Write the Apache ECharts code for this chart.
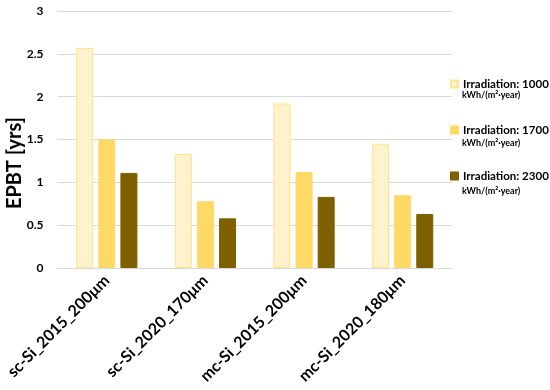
<!DOCTYPE html>
<html><head><meta charset="utf-8">
<script src="https://cdn.jsdelivr.net/npm/echarts@6/dist/echarts.min.js"></script>
<style>html,body{margin:0;padding:0;background:#fff}#c{width:550px;height:390px}</style>
</head><body><div id="c"></div>
<script>
const categories = ['sc-Si_2015_200μm', 'sc-Si_2020_170μm', 'mc-Si_2015_200μm', 'mc-Si_2020_180μm'];
const seriesNames = ['Irradiation: 1000', 'Irradiation: 1700', 'Irradiation: 2300'];
const irr1000 = [2.57, 1.33, 1.92, 1.45];
const irr1700 = [1.50, 0.78, 1.12, 0.85];
const irr2300 = [1.11, 0.58, 0.83, 0.63];
const yTicks = [0, 0.5, 1, 1.5, 2, 2.5, 3];
const yAxisTitle = 'EPBT [yrs]';
const unitLabel = 'kWh/(m²·year)';

const font = 'Lato, "Open Sans", sans-serif';
const fills = ['#FFF2CC', '#FFD966', '#7F6000'];
const borders = ['#FFE38A', '#FFD966', '#7F6000'];
const data = [irr1000, irr1700, irr2300];

const chart = echarts.init(document.getElementById('c'));
chart.setOption({
  animation: false,
  grid: { left: 57.5, right: 98, top: 11, bottom: 122 },
  xAxis: {
    type: 'category', data: categories,
    axisLine: { lineStyle: { color: '#d9d9d9', width: 1 } },
    axisTick: { show: false },
    axisLabel: { rotate: 45, margin: 10, color: '#000', fontFamily: font, fontWeight: 'bold', fontSize: 16, interval: 0 }
  },
  yAxis: {
    type: 'value', min: yTicks[0], max: yTicks[yTicks.length - 1], interval: 0.5,
    axisLine: { show: false }, axisTick: { show: false },
    axisLabel: { color: '#000', fontFamily: font, fontWeight: 'bold', fontSize: 12, margin: 14 },
    splitLine: { lineStyle: { color: '#d9d9d9', width: 1 } }
  },
  legend: {
    orient: 'vertical', left: 445, top: 73, itemWidth: 7, itemHeight: 7, itemGap: 34,
    textStyle: { color: '#000', fontFamily: font, fontWeight: 'bold', fontSize: 11.5 },
    data: seriesNames.map((n, i) => ({ name: n, icon: 'rect' }))
  },
  graphic: [0, 1, 2].map(i => ({
    type: 'text', left: 462, top: 91 + i * 48,
    style: { text: unitLabel, fill: '#000', font: 'bold 9px ' + font }
  })).concat([{
    type: 'text', left: 5, top: 117,
    style: { text: yAxisTitle, fill: '#000', font: 'bold 20px ' + font },
    rotation: Math.PI / 2
  }]),
  series: seriesNames.map((n, i) => ({
    name: n, type: 'bar', data: data[i],
    barWidth: 17, barGap: '30%',
    itemStyle: { color: fills[i], borderColor: borders[i], borderWidth: 1 }
  }))
});
</script></body></html>
